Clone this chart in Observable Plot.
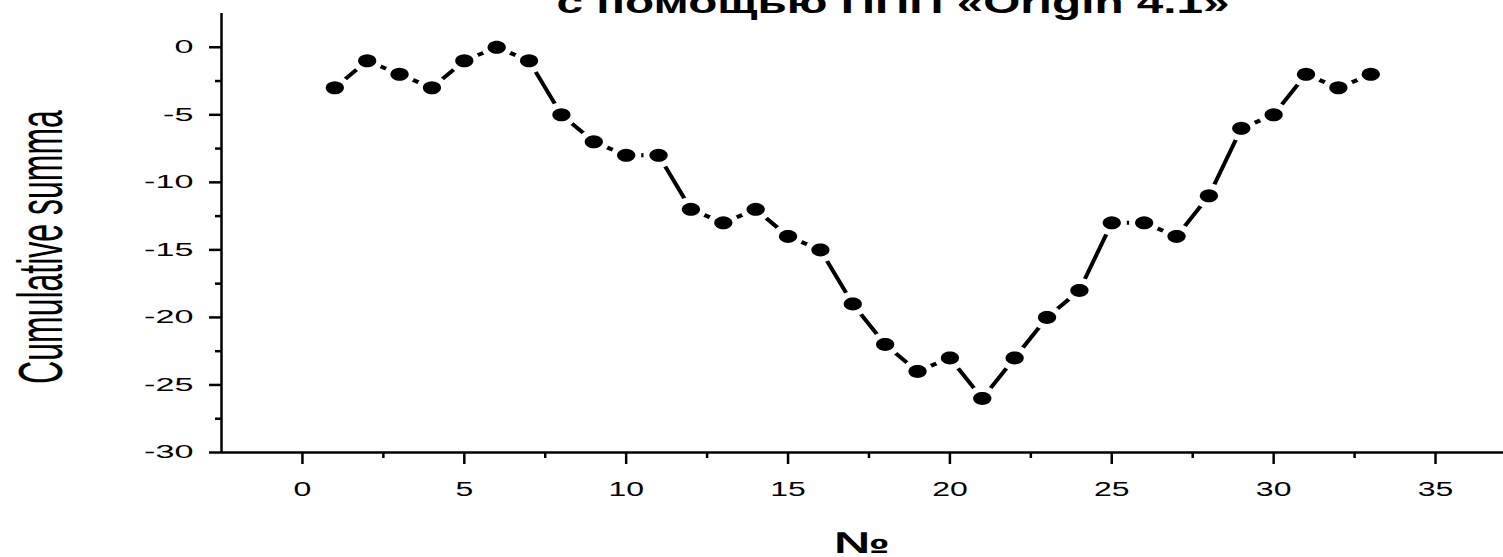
<!DOCTYPE html>
<html><head><meta charset="utf-8">
<script src="https://cdn.jsdelivr.net/npm/d3@7"></script>
<script src="https://cdn.jsdelivr.net/npm/@observablehq/plot@0.6"></script>
<style>html,body{margin:0;padding:0;background:#fff;overflow:hidden}svg{display:block}</style>
</head><body><div id="chart"></div>
<script>
const index = [1,2,3,4,5,6,7,8,9,10,11,12,13,14,15,16,17,18,19,20,21,22,23,24,25,26,27,28,29,30,31,32,33];
const cumulative = [-3,-1,-2,-3,-1,0,-1,-5,-7,-8,-8,-12,-13,-12,-14,-15,-19,-22,-24,-23,-26,-23,-20,-18,-13,-13,-14,-11,-6,-5,-2,-3,-2];
const xMajorTicks = [0,5,10,15,20,25,30,35];
const xMinorTicks = [2.5,7.5,12.5,17.5,22.5,27.5,32.5];
const yMajorTicks = [0,-5,-10,-15,-20,-25,-30];
const yMinorTicks = [-2.5,-7.5,-12.5,-17.5,-22.5,-27.5];
const titleText = "с помощью ППП «Origin 4.1»";
const yTitle = "Cumulative summa";
const xTitle = "№";

const data = index.map((n, i) => ({n, v: cumulative[i]}));

// ellipse-shaped marker (Origin-style stretched dot)
const ellipse = {
  draw(ctx, size) {
    const r = Math.sqrt(size / Math.PI);
    const rx = r * 1.4, ry = r;
    ctx.moveTo(rx, 0);
    for (let k = 1; k < 36; k++) {
      const a = k / 36 * 2 * Math.PI;
      ctx.lineTo(rx * Math.cos(a), ry * Math.sin(a));
    }
    ctx.closePath();
  }
};

const font = "'Liberation Sans', Arial, sans-serif";

const plot = Plot.plot({
  width: 1503, height: 557,
  marginLeft: 221, marginRight: 0, marginTop: 13, marginBottom: 105,
  style: {fontFamily: font, fontSize: "18px", color: "black", background: "white"},
  x: {domain: [-2.5, 37.1]},
  y: {domain: [-30, 2.5]},
  marks: [
    Plot.axisX(xMinorTicks, {tickSize: 6, strokeWidth: 2.5, tickFormat: () => "", label: null}),
    Plot.axisX(xMajorTicks, {tickSize: 12, tickPadding: 17, strokeWidth: 2.5, fontSize: 20, tickFormat: d => String(d), label: null}),
    Plot.axisY(yMinorTicks, {tickSize: 6, strokeWidth: 2.5, tickFormat: () => "", label: null}),
    Plot.axisY(yMajorTicks, {tickSize: 12, tickPadding: 16, strokeWidth: 2.5, fontSize: 18, tickFormat: d => String(d), label: null}),
    Plot.ruleX([-2.5], {strokeWidth: 2.5}),
    Plot.ruleY([-30], {strokeWidth: 2.5}),
    Plot.line(data, {x: "n", y: "v", stroke: "black", strokeWidth: 4}),
    Plot.dot(data, {x: "n", y: "v", r: 6.5, symbol: ellipse, fill: "black", stroke: "white", strokeWidth: 12, paintOrder: "stroke"})
  ]
});
document.getElementById("chart").appendChild(plot);

const svg = d3.select(plot);
svg.style("overflow", "visible");
// widen tick labels (horizontally stretched look of the original)
svg.selectAll("g[aria-label='y-axis tick label'] text").each(function() {
  const t = this.getAttribute("transform");
  if (t) this.setAttribute("transform", t + " scale(1.9,1)");
});
svg.selectAll("g[aria-label='x-axis tick label'] text").each(function() {
  const t = this.getAttribute("transform");
  if (t) this.setAttribute("transform", t + " scale(1.6,1)");
});

// title (cut at the top, as in the original)
svg.append("text")
  .attr("x", 893).attr("y", 13)
  .attr("text-anchor", "middle")
  .attr("font-family", font)
  .attr("font-weight", "bold").attr("font-size", 32)
  .attr("textLength", 673).attr("lengthAdjust", "spacingAndGlyphs")
  .text(titleText);

// y title (condensed, rotated)
svg.append("text")
  .attr("transform", "translate(62,247) rotate(-90) scale(1,1.95)")
  .attr("text-anchor", "middle")
  .attr("font-family", font)
  .attr("font-size", 32)
  .text(yTitle);

// x title
svg.append("text")
  .attr("x", 862).attr("y", 553)
  .attr("text-anchor", "middle")
  .attr("font-family", font)
  .attr("font-weight", "bold").attr("font-size", 30)
  .attr("textLength", 56).attr("lengthAdjust", "spacingAndGlyphs")
  .text(xTitle);
</script>
</body></html>
